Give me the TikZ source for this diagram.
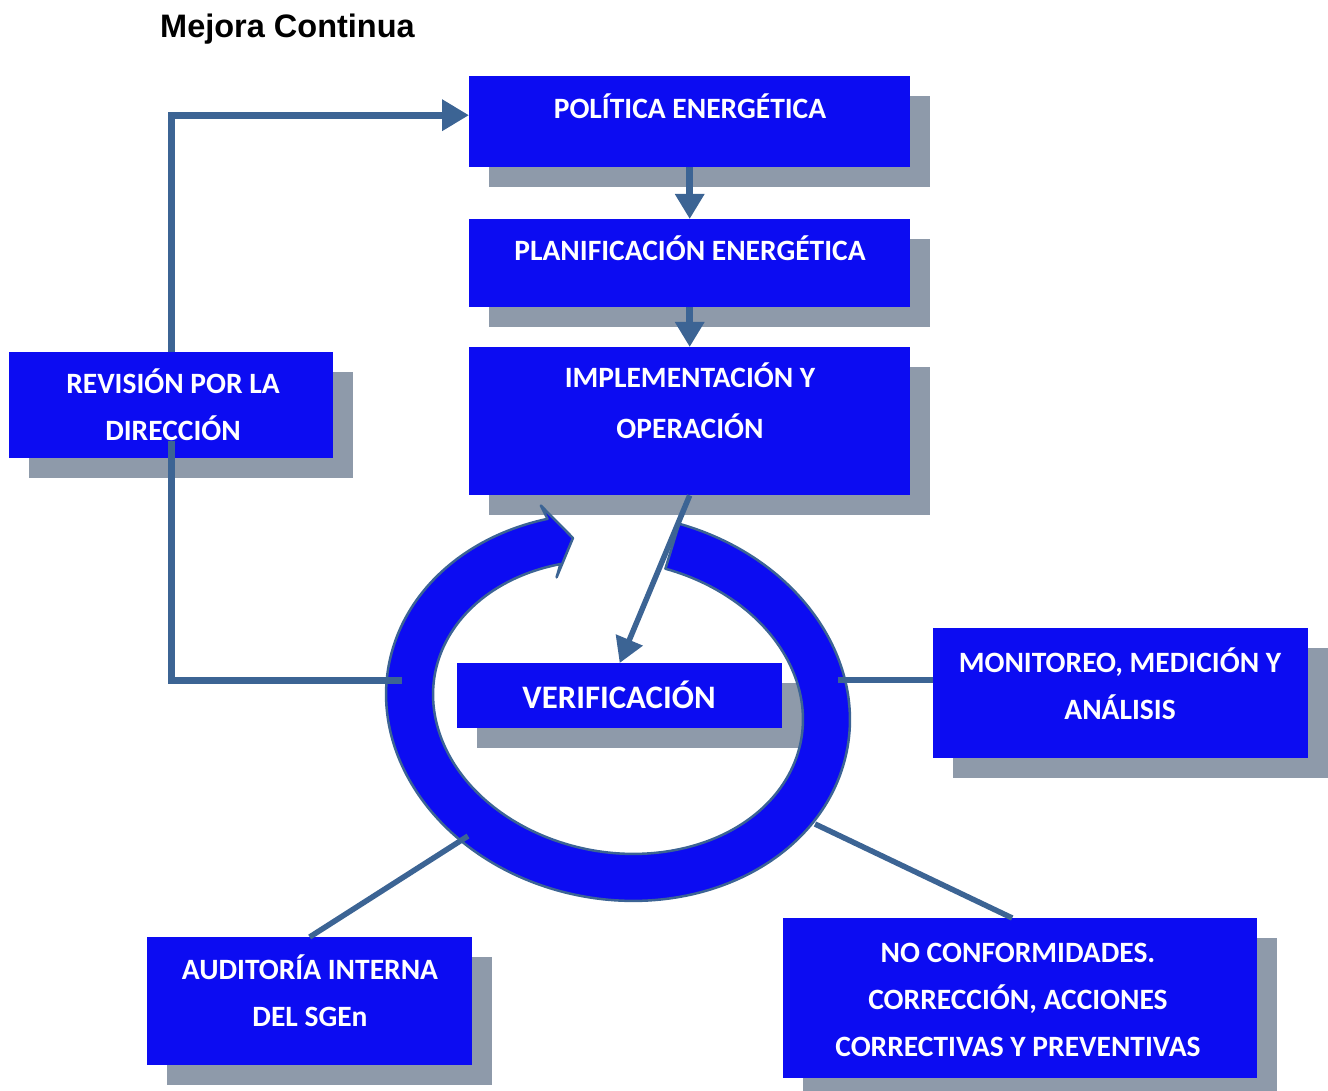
\documentclass[tikz,border=0pt]{standalone}
\usepackage{fontspec}
\newfontfamily\carlito{Carlito}
\newfontfamily\arialfont{Liberation Sans}
\usetikzlibrary{arrows.meta,shadows,calc}
\definecolor{boxblue}{RGB}{12,12,242}
\definecolor{shadowgray}{RGB}{142,154,170}
\definecolor{connblue}{RGB}{60,100,148}
\begin{document}
\begin{tikzpicture}[x=1pt,y=-1pt,
  box/.style={rectangle, fill=boxblue, draw=none, inner sep=0pt, anchor=north west,
     general shadow={fill=shadowgray, shadow xshift=20pt, shadow yshift=-20pt}},
  lbl/.style={text=white, font=\carlito\bfseries\fontsize{29.5}{47}\selectfont, align=center, inner sep=0pt, anchor=base},
  conn/.style={draw=connblue, line width=7pt},
  thinconn/.style={draw=connblue, line width=5.5pt},
  tipA/.style={-{Triangle[width=30pt,length=27pt]}},
  tipB/.style={-{Triangle[width=28pt,length=25pt]}},
]
\useasboundingbox (0,0) rectangle (1328,1091);
\clip (0,0) rectangle (1328,1091);

% title
\node[font=\arialfont\bfseries\fontsize{32.5}{38}\selectfont, anchor=base west, inner sep=0pt] (title) at (160,38) {Mejora Continua};

% boxes
\node[box, minimum width=441pt, minimum height=91pt] (pol) at (469,76) {};
\node[box, minimum width=441pt, minimum height=88pt] (plan) at (469,219) {};
\node[box, minimum width=441pt, minimum height=148pt] (imp) at (469,347) {};
\node[box, minimum width=324pt, minimum height=106pt] (rev) at (9,352) {};
\node[box, minimum width=375pt, minimum height=130pt] (mon) at (933,628) {};
\node[box, minimum width=325pt, minimum height=128pt] (aud) at (147,937) {};
\node[box, minimum width=474pt, minimum height=160pt] (nc) at (783,918) {};
\node[box, minimum width=325pt, minimum height=65pt] (verif) at (457,663) {};

% ring arrow
\begin{scope}[shift={(618,707)}, rotate=-10]
\filldraw[fill=boxblue, draw=connblue, line width=2.5pt, line join=round]
 (-83:233 and 192.5) arc[start angle=-83, end angle=244, x radius=233, y radius=192.5]
 -- (-111,-185) -- (-73.7,-158.6) -- (-83,-117)
 -- (244:186 and 145.5) arc[start angle=244, end angle=-83, x radius=186, y radius=145.5] -- cycle;
\end{scope}

% labels (anchor = baseline of the last line)
\node[lbl] (polT) at (690,119) {POLÍTICA ENERGÉTICA};
\node[lbl] (planT) at (690,261) {PLANIFICACIÓN ENERGÉTICA};
\node[lbl, font=\carlito\bfseries\fontsize{29.5}{51}\selectfont] (impT) at (690,438) {IMPLEMENTACIÓN Y\\OPERACIÓN};
\node[lbl] (revT) at (173,440) {REVISIÓN POR LA\\DIRECCIÓN};
\node[lbl, font=\carlito\bfseries\fontsize{32.8}{40}\selectfont] (verifT) at (619,708) {VERIFICACIÓN};
\node[lbl] (monT) at (1120,719) {MONITOREO, MEDICIÓN Y\\ANÁLISIS};
\node[lbl] (audT) at (310,1026) {AUDITORÍA INTERNA\\DEL SGEn};
\node[lbl] (ncT) at (1018,1056) {NO CONFORMIDADES.\\CORRECCIÓN, ACCIONES\\CORRECTIVAS Y PREVENTIVAS};

% ring anchor points
\coordinate (ringL) at (402,680);
\coordinate (ringR) at (838,680);
\coordinate (ringBL) at (468,836);
\coordinate (ringBR) at (815,824);

% connectors
\draw[conn, tipA] (rev.north) |- ([yshift=6.5pt]pol.west);
\draw[conn, tipB] (pol.south) -- (plan.north);
\draw[conn, tipB] (plan.south) -- (imp.north);
\draw[thinconn, tipB] (imp.south) -- (verif.north);
\draw[conn] ([yshift=17pt]rev.south) |- (ringL);
\draw[thinconn] (ringR) -- (ringR -| mon.west);
\draw[thinconn] (ringBL) -- (aud.north);
\draw[thinconn] (ringBR) -- ([xshift=-8pt]nc.north);
\end{tikzpicture}
\end{document}
